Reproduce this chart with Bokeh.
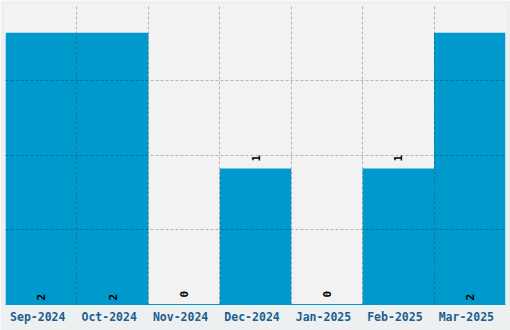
import math
from bokeh.plotting import figure
from bokeh.models import ColumnDataSource, Range1d, FixedTicker
from bokeh.core.properties import value
from bokeh.embed import file_html
from bokeh.resources import INLINE

months = ["Sep-2024", "Oct-2024", "Nov-2024", "Dec-2024", "Jan-2025", "Feb-2025", "Mar-2025"]
counts = [2, 2, 0, 1, 0, 1, 2]

BAR = "#0099cc"
n = len(months)
ymax = max(counts) * 1.1

centers = [i + 0.5 for i in range(n)]
label_y = [0 if c == max(counts) else c for c in counts]
label_off = [-4 if c == max(counts) else -7 for c in counts]

src = ColumnDataSource(dict(x=centers, top=counts, txt=[str(c) for c in counts],
                            ly=label_y, loff=label_off))

p = figure(width=510, height=330, output_backend="svg", toolbar_location=None,
           x_range=Range1d(0, n), y_range=Range1d(0, ymax),
           min_border_left=5, min_border_right=5, min_border_top=5, min_border_bottom=26)
p.background_fill_color = "#f2f2f2"
p.border_fill_color = "#edf0f1"
p.outline_line_color = None

p.vbar(x="x", top="top", width=1, source=src, fill_color=BAR, line_color=None)

p.text(x="x", y="ly", text="txt", source=src, angle=math.pi / 2, y_offset="loff",
       text_align="left", text_baseline="middle", text_color="black",
       text_font=value("DejaVu Sans Mono"), text_font_size="11px", text_font_style="bold")

p.yaxis.visible = False
ax = p.xaxis[0]
ax.ticker = FixedTicker(ticks=centers)
ax.major_label_overrides = {c: m + "\u00a0" for c, m in zip(centers, months)}
ax.major_tick_line_color = None
ax.minor_tick_line_color = None
ax.major_tick_out = 0
ax.major_tick_in = 0
ax.minor_tick_out = 0
ax.minor_tick_in = 0
ax.axis_line_color = BAR
ax.axis_line_width = 1
ax.major_label_standoff = 5
ax.major_label_text_font = "DejaVu Sans Mono"
ax.major_label_text_font_size = "11.5px"
ax.major_label_text_font_style = "bold"
ax.major_label_text_color = "#1d5e8e"

for g, ticks in ((p.xgrid[0], list(range(1, n))),
                 (p.ygrid[0], [ymax * k / 4 for k in (1, 2, 3)])):
    g.ticker = FixedTicker(ticks=ticks)
    g.grid_line_color = "black"
    g.grid_line_alpha = 0.25
    g.grid_line_dash = "3 2"
    g.level = "annotation"

open("out.html", "w").write(file_html(p, INLINE))
